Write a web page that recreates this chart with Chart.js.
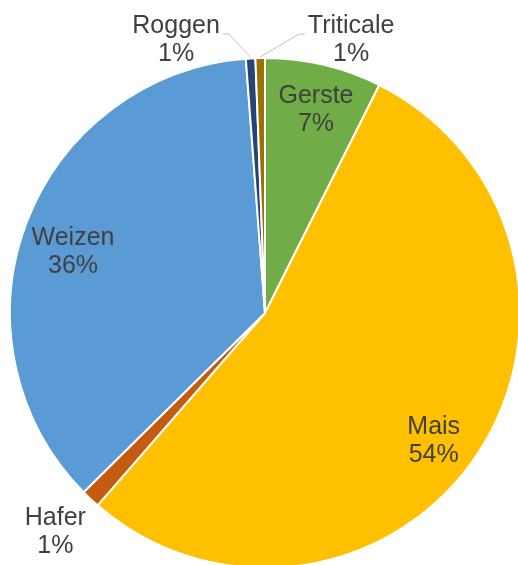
<!DOCTYPE html>
<html>
<head>
<meta charset="utf-8">
<script src="https://cdn.jsdelivr.net/npm/chart.js@4/dist/chart.umd.min.js"></script>
<style>
  html, body { margin:0; padding:0; background:#fff; overflow:hidden; }
  #wrap { width:518px; height:565px; overflow:hidden; position:relative; }
  #pie { position:absolute; left:0; top:0; }
</style>
</head>
<body>
<div id="wrap"><canvas id="pie" width="530" height="626"></canvas></div>
<script>
// --- Data ---
const categories = ["Gerste", "Mais", "Hafer", "Weizen", "Roggen", "Triticale"];
const shares     = [7.4, 54.0, 1.2, 36.2, 0.6, 0.6];
const colors     = ["#70AD47", "#FFC000", "#C55A11", "#5B9BD5", "#264478", "#997300"];

// label placement relative to each slice: radial factor, angle shift (deg), leader line
const labelPlace = [
  { f:0.82, shift:0.8 },
  { f:0.83, shift:3.3 },
  { f:1.19, shift:0.5 },
  { f:0.79, shift:-2.9 },
  { f:1.126, shift:-14.8, leader:'right' },
  { f:1.122, shift:18.6, leader:'left' }
];

const FONT = '25px "Liberation Sans", Arial, sans-serif';
const LINE_H = 28;

const pieLabels = {
  id: 'pieLabels',
  afterDatasetsDraw(chart){
    const ctx = chart.ctx;
    const arcs = chart.getDatasetMeta(0).data;
    ctx.save();
    ctx.font = FONT;
    ctx.fillStyle = '#404040';
    ctx.textAlign = 'center';
    ctx.textBaseline = 'middle';
    arcs.forEach((arc, i) => {
      const p = arc.getProps(['x','y','startAngle','endAngle','outerRadius'], true);
      const mid = (p.startAngle + p.endAngle)/2;
      const pl = labelPlace[i];
      const a = mid + pl.shift*Math.PI/180;
      const lx = p.x + Math.cos(a)*p.outerRadius*pl.f;
      const ly = p.y + Math.sin(a)*p.outerRadius*pl.f;
      const t1 = categories[i];
      const t2 = Math.round(shares[i]) + '%';
      ctx.fillText(t1, lx, ly - LINE_H/2);
      ctx.fillText(t2, lx, ly + LINE_H/2);
      if (pl.leader) {
        const w = ctx.measureText(t1).width;
        const sx = pl.leader === 'right' ? lx + w/2 + 3 : lx - w/2 - 3;
        const sy = ly - LINE_H/2 + 8;
        const hx = pl.leader === 'right' ? sx + 6 : sx - 6;
        const ex = p.x + Math.cos(mid)*(p.outerRadius+1);
        const ey = p.y + Math.sin(mid)*(p.outerRadius+1);
        ctx.beginPath();
        ctx.strokeStyle = '#BFBFBF';
        ctx.lineWidth = 1;
        ctx.moveTo(sx, sy); ctx.lineTo(hx, sy); ctx.lineTo(ex, ey);
        ctx.stroke();
      }
    });
    ctx.restore();
  }
};

new Chart(document.getElementById('pie'), {
  type: 'pie',
  data: {
    labels: categories,
    datasets: [{ data: shares, backgroundColor: colors, borderColor: '#ffffff', borderWidth: 2 }]
  },
  options: {
    responsive: false,
    animation: false,
    radius: 255,
    layout: { padding: 0 },
    plugins: { legend: { display:false }, tooltip: { enabled:false } }
  },
  plugins: [pieLabels]
});
</script>
</body>
</html>
